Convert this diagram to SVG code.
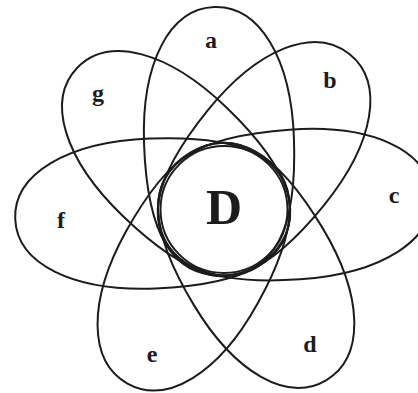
<svg xmlns="http://www.w3.org/2000/svg" width="418" height="393" viewBox="0 0 418 393">
<style>
.sh{fill:none;stroke:#1c1c1c;stroke-width:2}
.lb{font-family:"Liberation Serif","Times New Roman",serif;font-weight:bold;font-size:24px;fill:#1c1c1c;text-anchor:middle}
.big{font-size:50px}
</style>
<rect width="418" height="393" fill="#ffffff"/>
<g id="a"><path class="sh" transform="translate(219 141.25) rotate(-2)" d="M0,-134.25C45,-134.25 75,-80.6 75,0C75,91.3 51,134.25 0,134.25C-51,134.25 -75,91.3 -75,0C-75,-80.6 -45,-134.25 0,-134.25Z"/><text class="lb" x="211" y="48">a</text></g>
<g id="b"><path class="sh" transform="translate(266 157.6) rotate(39)" d="M0,-133C45,-133 75,-79.8 75,0C75,90.4 51,133 0,133C-51,133 -75,90.4 -75,0C-75,-79.8 -45,-133 0,-133Z"/><text class="lb" x="330" y="88">b</text></g>
<g id="c"><path class="sh" transform="translate(294.8 204.5) rotate(86)" d="M0,-137C45,-137 75,-82.2 75,0C75,93.2 51,137 0,137C-51,137 -75,93.2 -75,0C-75,-82.2 -45,-137 0,-137Z"/><text class="lb" x="394" y="203">c</text></g>
<g id="d"><path class="sh" transform="translate(258.2 266.5) rotate(149)" d="M0,-132.5C45,-132.5 75,-79.5 75,0C75,90.1 51,132.5 0,132.5C-51,132.5 -75,90.1 -75,0C-75,-79.5 -45,-132.5 0,-132.5Z"/><text class="lb" x="310" y="352">d</text></g>
<g id="e"><path class="sh" transform="translate(191.7 267.7) rotate(209)" d="M0,-132.5C45,-132.5 75,-79.5 75,0C75,90.1 51,132.5 0,132.5C-51,132.5 -75,90.1 -75,0C-75,-79.5 -45,-132.5 0,-132.5Z"/><text class="lb" x="152" y="362">e</text></g>
<g id="f"><path class="sh" transform="translate(152.6 213.5) rotate(267.7)" d="M0,-137.5C45,-137.5 75,-82.5 75,0C75,93.5 51,137.5 0,137.5C-51,137.5 -75,93.5 -75,0C-75,-82.5 -45,-137.5 0,-137.5Z"/><text class="lb" x="61" y="228">f</text></g>
<g id="g"><path class="sh" transform="translate(174.4 161.5) rotate(314)" d="M0,-135C45,-135 75,-81 75,0C75,91.8 51,135 0,135C-51,135 -75,91.8 -75,0C-75,-81 -45,-135 0,-135Z"/><text class="lb" x="98" y="101">g</text></g>
<g id="D"><circle class="sh" cx="224" cy="209.5" r="63.5"/><text class="lb big" x="224" y="224">D</text></g>
</svg>
